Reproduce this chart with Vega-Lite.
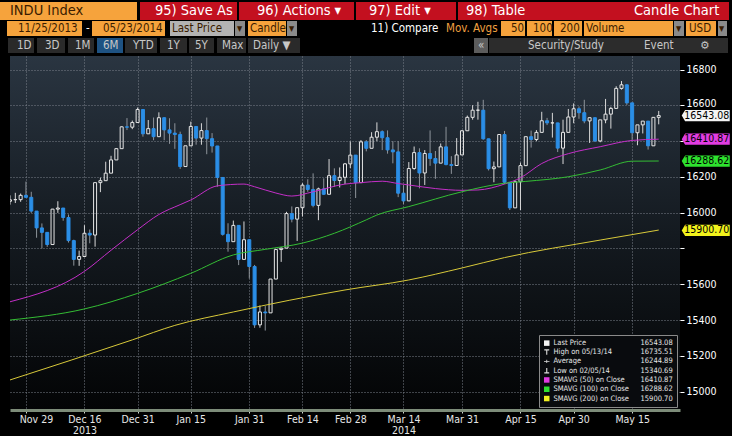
{
"$schema": "https://vega.github.io/schema/vega-lite/v6.json",
"background": "#000000",
"padding": 0,
"spacing": 0,
"config": {"view": {"stroke": null}, "font": "DejaVu Sans Condensed, Liberation Sans, sans-serif"},
"resolve": {"scale": {"x": "independent", "y": "independent", "color": "independent", "fill": "independent", "stroke": "independent", "shape": "independent"}},
"datasets": {
"hbox": [
{"x":0,"x2":137,"y":2,"y2":20,"k":"or"},
{"x":140,"x2":237,"y":2,"y2":20,"k":"red"},
{"x":239,"x2":354,"y":2,"y2":20,"k":"red"},
{"x":356,"x2":456,"y":2,"y2":20,"k":"red"},
{"x":458,"x2":729,"y":2,"y2":20,"k":"red"},
{"x":7,"x2":82,"y":21,"y2":36,"k":"or"},
{"x":92,"x2":165,"y":21,"y2":36,"k":"or"},
{"x":170,"x2":234,"y":21,"y2":36,"k":"gray"},
{"x":235,"x2":245,"y":21,"y2":36,"k":"dd"},
{"x":248,"x2":286,"y":21,"y2":36,"k":"or"},
{"x":287,"x2":297,"y":21,"y2":36,"k":"dd"},
{"x":501,"x2":525,"y":21,"y2":36,"k":"or"},
{"x":527,"x2":552,"y":21,"y2":36,"k":"or"},
{"x":554,"x2":582,"y":21,"y2":36,"k":"or"},
{"x":584,"x2":673,"y":21,"y2":36,"k":"or"},
{"x":674,"x2":684,"y":21,"y2":36,"k":"dd"},
{"x":686,"x2":716,"y":21,"y2":36,"k":"or"},
{"x":718,"x2":727,"y":21,"y2":36,"k":"dd"},
{"x":8,"x2":34,"y":38,"y2":53,"k":"tab"},
{"x":37,"x2":65,"y":38,"y2":53,"k":"tab"},
{"x":68,"x2":94,"y":38,"y2":53,"k":"tab"},
{"x":97,"x2":123,"y":38,"y2":53,"k":"act"},
{"x":125,"x2":157,"y":38,"y2":53,"k":"tab"},
{"x":160,"x2":187,"y":38,"y2":53,"k":"tab"},
{"x":189,"x2":214,"y":38,"y2":53,"k":"tab"},
{"x":217,"x2":246,"y":38,"y2":53,"k":"tab"},
{"x":248,"x2":300,"y":38,"y2":53,"k":"tab"},
{"x":474,"x2":488,"y":38,"y2":53,"k":"btn"},
{"x":489,"x2":728,"y":38,"y2":53,"k":"bar"}
],
"htext": [
{"r":1,"x":10,"y":11,"t":"INDU Index","k":"dk"},
{"r":1,"x":155,"y":11,"t":"95) Save As","k":"wh"},
{"r":1,"x":257,"y":11,"t":"96) Actions ▾","k":"wh"},
{"r":1,"x":369,"y":11,"t":"97) Edit ▾","k":"wh"},
{"r":1,"x":466,"y":11,"t":"98) Table","k":"wh"},
{"r":1,"x":634,"y":11,"t":"Candle Chart","k":"wh"},
{"r":2,"x":18,"y":28.5,"t":"11/25/2013","k":"dk"},
{"r":2,"x":86,"y":28.5,"t":"-","k":"wh"},
{"r":2,"x":103,"y":28.5,"t":"05/23/2014","k":"dk"},
{"r":2,"x":172,"y":28.5,"t":"Last Price","k":"dk"},
{"r":2,"x":237,"y":28.5,"t":"▾","k":"dk"},
{"r":2,"x":250,"y":28.5,"t":"Candle","k":"dk"},
{"r":2,"x":289,"y":28.5,"t":"▾","k":"dk"},
{"r":2,"x":371,"y":28.5,"t":"11) Compare","k":"wh"},
{"r":2,"x":446,"y":28.5,"t":"Mov. Avgs","k":"or"},
{"r":2,"x":511,"y":28.5,"t":"50","k":"dk"},
{"r":2,"x":533,"y":28.5,"t":"100","k":"dk"},
{"r":2,"x":560,"y":28.5,"t":"200","k":"dk"},
{"r":2,"x":586,"y":28.5,"t":"Volume","k":"dk"},
{"r":2,"x":676,"y":28.5,"t":"▾","k":"dk"},
{"r":2,"x":689,"y":28.5,"t":"USD","k":"dk"},
{"r":2,"x":719,"y":28.5,"t":"▾","k":"dk"},
{"r":3,"x":17,"y":46,"t":"1D","k":"gr"},
{"r":3,"x":45,"y":46,"t":"3D","k":"gr"},
{"r":3,"x":75,"y":46,"t":"1M","k":"gr"},
{"r":3,"x":103,"y":46,"t":"6M","k":"gr"},
{"r":3,"x":133,"y":46,"t":"YTD","k":"gr"},
{"r":3,"x":167,"y":46,"t":"1Y","k":"gr"},
{"r":3,"x":195,"y":46,"t":"5Y","k":"gr"},
{"r":3,"x":222,"y":46,"t":"Max","k":"gr"},
{"r":3,"x":253,"y":46,"t":"Daily ▼","k":"gr"},
{"r":3,"x":478,"y":46,"t":"«","k":"gr"},
{"r":3,"x":528,"y":46,"t":"Security/Study","k":"gr"},
{"r":3,"x":644,"y":46,"t":"Event","k":"gr"},
{"r":3,"x":700,"y":46,"t":"⚙","k":"gr"}
],
"candles": [
{"d":"2013-11-25","o":16064,"h":16097,"l":16045,"c":16072},
{"d":"2013-11-26","o":16073,"h":16111,"l":16054,"c":16073},
{"d":"2013-11-27","o":16073,"h":16107,"l":16061,"c":16097},
{"d":"2013-11-29","o":16097,"h":16174,"l":16082,"c":16086},
{"d":"2013-12-02","o":16086,"h":16117,"l":15999,"c":16009},
{"d":"2013-12-03","o":16009,"h":16009,"l":15860,"c":15915},
{"d":"2013-12-04","o":15915,"h":15940,"l":15800,"c":15890},
{"d":"2013-12-05","o":15890,"h":15890,"l":15809,"c":15822},
{"d":"2013-12-06","o":15822,"h":16021,"l":15822,"c":16020},
{"d":"2013-12-09","o":16020,"h":16064,"l":15999,"c":16026},
{"d":"2013-12-10","o":16026,"h":16026,"l":15955,"c":15973},
{"d":"2013-12-11","o":15973,"h":15990,"l":15833,"c":15844},
{"d":"2013-12-12","o":15844,"h":15849,"l":15704,"c":15739},
{"d":"2013-12-13","o":15739,"h":15788,"l":15703,"c":15755},
{"d":"2013-12-16","o":15755,"h":15930,"l":15755,"c":15885},
{"d":"2013-12-17","o":15885,"h":15906,"l":15829,"c":15875},
{"d":"2013-12-18","o":15875,"h":16168,"l":15810,"c":16168},
{"d":"2013-12-19","o":16168,"h":16196,"l":16115,"c":16179},
{"d":"2013-12-20","o":16179,"h":16285,"l":16179,"c":16221},
{"d":"2013-12-23","o":16221,"h":16318,"l":16221,"c":16295},
{"d":"2013-12-24","o":16295,"h":16360,"l":16295,"c":16358},
{"d":"2013-12-26","o":16358,"h":16483,"l":16358,"c":16480},
{"d":"2013-12-27","o":16480,"h":16529,"l":16462,"c":16478},
{"d":"2013-12-30","o":16478,"h":16515,"l":16467,"c":16504},
{"d":"2013-12-31","o":16504,"h":16588,"l":16504,"c":16577},
{"d":"2014-01-02","o":16577,"h":16577,"l":16425,"c":16441},
{"d":"2014-01-03","o":16441,"h":16518,"l":16441,"c":16470},
{"d":"2014-01-06","o":16470,"h":16532,"l":16405,"c":16425},
{"d":"2014-01-07","o":16425,"h":16561,"l":16425,"c":16531},
{"d":"2014-01-08","o":16531,"h":16531,"l":16405,"c":16463},
{"d":"2014-01-09","o":16463,"h":16528,"l":16385,"c":16445},
{"d":"2014-01-10","o":16445,"h":16500,"l":16357,"c":16437},
{"d":"2014-01-13","o":16437,"h":16453,"l":16245,"c":16258},
{"d":"2014-01-14","o":16258,"h":16374,"l":16258,"c":16374},
{"d":"2014-01-15","o":16374,"h":16509,"l":16374,"c":16482},
{"d":"2014-01-16","o":16482,"h":16482,"l":16380,"c":16417},
{"d":"2014-01-17","o":16417,"h":16500,"l":16380,"c":16459},
{"d":"2014-01-21","o":16459,"h":16532,"l":16327,"c":16414},
{"d":"2014-01-22","o":16414,"h":16445,"l":16336,"c":16373},
{"d":"2014-01-23","o":16373,"h":16373,"l":16145,"c":16197},
{"d":"2014-01-24","o":16197,"h":16197,"l":15872,"c":15879},
{"d":"2014-01-27","o":15879,"h":15941,"l":15782,"c":15838},
{"d":"2014-01-28","o":15838,"h":15956,"l":15838,"c":15929},
{"d":"2014-01-29","o":15929,"h":15929,"l":15707,"c":15739},
{"d":"2014-01-30","o":15739,"h":15951,"l":15739,"c":15849},
{"d":"2014-01-31","o":15849,"h":15849,"l":15632,"c":15699},
{"d":"2014-02-03","o":15699,"h":15708,"l":15356,"c":15373},
{"d":"2014-02-04","o":15373,"h":15481,"l":15357,"c":15445},
{"d":"2014-02-05","o":15445,"h":15478,"l":15341,"c":15440},
{"d":"2014-02-06","o":15440,"h":15629,"l":15440,"c":15629},
{"d":"2014-02-07","o":15629,"h":15798,"l":15629,"c":15794},
{"d":"2014-02-10","o":15794,"h":15806,"l":15725,"c":15802},
{"d":"2014-02-11","o":15802,"h":16005,"l":15802,"c":15995},
{"d":"2014-02-12","o":15995,"h":16035,"l":15946,"c":15964},
{"d":"2014-02-13","o":15964,"h":16030,"l":15842,"c":16028},
{"d":"2014-02-14","o":16028,"h":16165,"l":15979,"c":16154},
{"d":"2014-02-18","o":16154,"h":16187,"l":16117,"c":16130},
{"d":"2014-02-19","o":16130,"h":16220,"l":16030,"c":16041},
{"d":"2014-02-20","o":16041,"h":16140,"l":15958,"c":16133},
{"d":"2014-02-21","o":16133,"h":16192,"l":16100,"c":16103},
{"d":"2014-02-24","o":16103,"h":16300,"l":16103,"c":16207},
{"d":"2014-02-25","o":16207,"h":16248,"l":16144,"c":16180},
{"d":"2014-02-26","o":16180,"h":16253,"l":16141,"c":16198},
{"d":"2014-02-27","o":16198,"h":16278,"l":16160,"c":16273},
{"d":"2014-02-28","o":16273,"h":16398,"l":16250,"c":16322},
{"d":"2014-03-03","o":16322,"h":16322,"l":16082,"c":16168},
{"d":"2014-03-04","o":16168,"h":16406,"l":16168,"c":16396},
{"d":"2014-03-05","o":16396,"h":16406,"l":16343,"c":16360},
{"d":"2014-03-06","o":16360,"h":16450,"l":16360,"c":16422},
{"d":"2014-03-07","o":16422,"h":16505,"l":16400,"c":16453},
{"d":"2014-03-10","o":16453,"h":16460,"l":16350,"c":16419},
{"d":"2014-03-11","o":16419,"h":16460,"l":16330,"c":16351},
{"d":"2014-03-12","o":16351,"h":16400,"l":16276,"c":16340},
{"d":"2014-03-13","o":16340,"h":16400,"l":16087,"c":16109},
{"d":"2014-03-14","o":16109,"h":16154,"l":16048,"c":16066},
{"d":"2014-03-17","o":16066,"h":16283,"l":16066,"c":16247},
{"d":"2014-03-18","o":16247,"h":16370,"l":16240,"c":16336},
{"d":"2014-03-19","o":16336,"h":16360,"l":16136,"c":16222},
{"d":"2014-03-20","o":16222,"h":16350,"l":16155,"c":16331},
{"d":"2014-03-21","o":16331,"h":16460,"l":16262,"c":16303},
{"d":"2014-03-24","o":16303,"h":16345,"l":16189,"c":16277},
{"d":"2014-03-25","o":16277,"h":16387,"l":16277,"c":16368},
{"d":"2014-03-26","o":16368,"h":16480,"l":16265,"c":16269},
{"d":"2014-03-27","o":16269,"h":16316,"l":16217,"c":16264},
{"d":"2014-03-28","o":16264,"h":16417,"l":16264,"c":16323},
{"d":"2014-03-31","o":16323,"h":16462,"l":16323,"c":16458},
{"d":"2014-04-01","o":16458,"h":16543,"l":16458,"c":16533},
{"d":"2014-04-02","o":16533,"h":16601,"l":16520,"c":16573},
{"d":"2014-04-03","o":16573,"h":16620,"l":16520,"c":16573},
{"d":"2014-04-04","o":16573,"h":16631,"l":16408,"c":16413},
{"d":"2014-04-07","o":16413,"h":16413,"l":16236,"c":16246},
{"d":"2014-04-08","o":16246,"h":16286,"l":16170,"c":16256},
{"d":"2014-04-09","o":16256,"h":16437,"l":16256,"c":16437},
{"d":"2014-04-10","o":16437,"h":16457,"l":16160,"c":16170},
{"d":"2014-04-11","o":16170,"h":16170,"l":16015,"c":16027},
{"d":"2014-04-14","o":16027,"h":16180,"l":16027,"c":16173},
{"d":"2014-04-15","o":16173,"h":16280,"l":16015,"c":16263},
{"d":"2014-04-16","o":16263,"h":16425,"l":16263,"c":16425},
{"d":"2014-04-17","o":16425,"h":16459,"l":16364,"c":16409},
{"d":"2014-04-21","o":16409,"h":16462,"l":16400,"c":16449},
{"d":"2014-04-22","o":16449,"h":16564,"l":16449,"c":16514},
{"d":"2014-04-23","o":16514,"h":16530,"l":16490,"c":16502},
{"d":"2014-04-24","o":16502,"h":16558,"l":16420,"c":16502},
{"d":"2014-04-25","o":16502,"h":16502,"l":16339,"c":16361},
{"d":"2014-04-28","o":16361,"h":16520,"l":16272,"c":16449},
{"d":"2014-04-29","o":16449,"h":16580,"l":16449,"c":16535},
{"d":"2014-04-30","o":16535,"h":16611,"l":16500,"c":16581},
{"d":"2014-05-01","o":16581,"h":16594,"l":16525,"c":16559},
{"d":"2014-05-02","o":16559,"h":16631,"l":16500,"c":16513},
{"d":"2014-05-05","o":16513,"h":16533,"l":16390,"c":16531},
{"d":"2014-05-06","o":16531,"h":16531,"l":16395,"c":16401},
{"d":"2014-05-07","o":16401,"h":16519,"l":16394,"c":16519},
{"d":"2014-05-08","o":16519,"h":16636,"l":16500,"c":16551},
{"d":"2014-05-09","o":16551,"h":16592,"l":16470,"c":16583},
{"d":"2014-05-12","o":16583,"h":16707,"l":16583,"c":16695},
{"d":"2014-05-13","o":16695,"h":16736,"l":16688,"c":16715},
{"d":"2014-05-14","o":16715,"h":16716,"l":16603,"c":16614},
{"d":"2014-05-15","o":16614,"h":16614,"l":16406,"c":16447},
{"d":"2014-05-16","o":16447,"h":16491,"l":16377,"c":16491},
{"d":"2014-05-19","o":16491,"h":16512,"l":16443,"c":16512},
{"d":"2014-05-20","o":16512,"h":16512,"l":16353,"c":16374},
{"d":"2014-05-21","o":16374,"h":16535,"l":16374,"c":16533},
{"d":"2014-05-22","o":16533,"h":16569,"l":16494,"c":16543}
],
"ma": [
{"d":"2013-11-25","s":"50","v":15502},
{"d":"2013-12-16","s":"50","v":15672},
{"d":"2013-12-23","s":"50","v":15790},
{"d":"2013-12-31","s":"50","v":15905},
{"d":"2014-01-07","s":"50","v":15990},
{"d":"2014-01-13","s":"50","v":16045},
{"d":"2014-01-15","s":"50","v":16071},
{"d":"2014-01-23","s":"50","v":16150},
{"d":"2014-01-30","s":"50","v":16160},
{"d":"2014-02-03","s":"50","v":16145},
{"d":"2014-02-07","s":"50","v":16110},
{"d":"2014-02-12","s":"50","v":16093},
{"d":"2014-02-19","s":"50","v":16117},
{"d":"2014-02-27","s":"50","v":16160},
{"d":"2014-03-04","s":"50","v":16168},
{"d":"2014-03-10","s":"50","v":16176},
{"d":"2014-03-13","s":"50","v":16163},
{"d":"2014-03-17","s":"50","v":16155},
{"d":"2014-03-24","s":"50","v":16135},
{"d":"2014-03-31","s":"50","v":16125},
{"d":"2014-04-03","s":"50","v":16127},
{"d":"2014-04-10","s":"50","v":16160},
{"d":"2014-04-15","s":"50","v":16195},
{"d":"2014-04-22","s":"50","v":16275},
{"d":"2014-04-29","s":"50","v":16330},
{"d":"2014-05-07","s":"50","v":16369},
{"d":"2014-05-15","s":"50","v":16404},
{"d":"2014-05-22","s":"50","v":16411},
{"d":"2013-11-25","s":"100","v":15400},
{"d":"2013-12-16","s":"100","v":15462},
{"d":"2013-12-31","s":"100","v":15549},
{"d":"2014-01-15","s":"100","v":15661},
{"d":"2014-01-28","s":"100","v":15764},
{"d":"2014-02-05","s":"100","v":15795},
{"d":"2014-02-14","s":"100","v":15830},
{"d":"2014-02-25","s":"100","v":15885},
{"d":"2014-03-05","s":"100","v":15960},
{"d":"2014-03-07","s":"100","v":15987},
{"d":"2014-03-17","s":"100","v":16034},
{"d":"2014-03-31","s":"100","v":16117},
{"d":"2014-04-10","s":"100","v":16165},
{"d":"2014-04-16","s":"100","v":16175},
{"d":"2014-04-29","s":"100","v":16201},
{"d":"2014-05-07","s":"100","v":16239},
{"d":"2014-05-15","s":"100","v":16288},
{"d":"2014-05-22","s":"100","v":16289},
{"d":"2013-11-25","s":"200","v":15065},
{"d":"2013-12-30","s":"200","v":15289},
{"d":"2014-01-10","s":"200","v":15370},
{"d":"2014-01-28","s":"200","v":15445},
{"d":"2014-02-27","s":"200","v":15568},
{"d":"2014-03-17","s":"200","v":15624},
{"d":"2014-03-31","s":"200","v":15691},
{"d":"2014-04-10","s":"200","v":15749},
{"d":"2014-05-07","s":"200","v":15847},
{"d":"2014-05-22","s":"200","v":15903}
],
"tags": [
{"d":"2014-05-22","t":"last","v":16543.08},
{"d":"2014-05-22","t":"ma50","v":16410.87},
{"d":"2014-05-22","t":"ma100","v":16288.62},
{"d":"2014-05-22","t":"ma200","v":15900.70}
]
},
"vconcat": [
{
"width": 732, "height": 56,
"view": {"stroke": null, "fill": "#000000"},
"layer": [
{"data": {"name": "hbox"}, "mark": {"type": "rect"},
 "encoding": {
  "x": {"field": "x", "type": "quantitative", "scale": {"domain": [0, 732], "nice": false, "zero": false}, "axis": null},
  "x2": {"field": "x2"},
  "y": {"field": "y", "type": "quantitative", "scale": {"domain": [0, 56], "nice": false, "zero": false, "reverse": true}, "axis": null},
  "y2": {"field": "y2"},
  "fill": {"field": "k", "type": "nominal", "legend": null, "scale": {"domain": ["or","red","gray","dd","tab","act","btn","bar"], "range": ["#f6a33c","#c3101f","#b3b3b3","#8a8a8a","#2a2a2a","#1e5282","#5c5c5c","#2c2c2c"]}}
 }},
{"data": {"name": "htext"}, "transform": [{"filter": "datum.r == 1"}],
 "mark": {"type": "text", "align": "left", "baseline": "middle", "fontSize": 14.5},
 "encoding": {
  "x": {"field": "x", "type": "quantitative", "scale": {"domain": [0, 732], "nice": false, "zero": false}, "axis": null},
  "y": {"field": "y", "type": "quantitative", "scale": {"domain": [0, 56], "nice": false, "zero": false, "reverse": true}, "axis": null},
  "text": {"field": "t"},
  "color": {"field": "k", "type": "nominal", "legend": null, "scale": {"domain": ["dk","wh","or","gr"], "range": ["#3a1c00","#ffffff","#f0a040","#c8c8c8"]}}
 }},
{"data": {"name": "htext"}, "transform": [{"filter": "datum.r > 1"}],
 "mark": {"type": "text", "align": "left", "baseline": "middle", "fontSize": 11.5},
 "encoding": {
  "x": {"field": "x", "type": "quantitative", "scale": {"domain": [0, 732], "nice": false, "zero": false}, "axis": null},
  "y": {"field": "y", "type": "quantitative", "scale": {"domain": [0, 56], "nice": false, "zero": false, "reverse": true}, "axis": null},
  "text": {"field": "t"},
  "color": {"field": "k", "type": "nominal", "legend": null, "scale": {"domain": ["dk","wh","or","gr"], "range": ["#3a1c00","#ffffff","#f0a040","#c8c8c8"]}}
 }}
]
},
{
"hconcat": [
{"width": 10, "height": 354, "data": {"values": []}, "mark": "point", "view": {"stroke": null}},
{
"width": 670, "height": 354,
"view": {"stroke": null, "fill": {"gradient": "linear", "x1": 0, "y1": 0, "x2": 0, "y2": 1, "stops": [{"offset": 0, "color": "#2a3541"}, {"offset": 0.5, "color": "#141a20"}, {"offset": 1, "color": "#030405"}]}},
"encoding": {
 "x": {"field": "d", "type": "ordinal", "title": null,
  "scale": {"type": "point", "padding": 0, "domain": ["2013-11-25","2013-11-26","2013-11-27","2013-11-29","2013-12-02","2013-12-03","2013-12-04","2013-12-05","2013-12-06","2013-12-09","2013-12-10","2013-12-11","2013-12-12","2013-12-13","2013-12-16","2013-12-17","2013-12-18","2013-12-19","2013-12-20","2013-12-23","2013-12-24","2013-12-26","2013-12-27","2013-12-30","2013-12-31","2014-01-02","2014-01-03","2014-01-06","2014-01-07","2014-01-08","2014-01-09","2014-01-10","2014-01-13","2014-01-14","2014-01-15","2014-01-16","2014-01-17","2014-01-21","2014-01-22","2014-01-23","2014-01-24","2014-01-27","2014-01-28","2014-01-29","2014-01-30","2014-01-31","2014-02-03","2014-02-04","2014-02-05","2014-02-06","2014-02-07","2014-02-10","2014-02-11","2014-02-12","2014-02-13","2014-02-14","2014-02-18","2014-02-19","2014-02-20","2014-02-21","2014-02-24","2014-02-25","2014-02-26","2014-02-27","2014-02-28","2014-03-03","2014-03-04","2014-03-05","2014-03-06","2014-03-07","2014-03-10","2014-03-11","2014-03-12","2014-03-13","2014-03-14","2014-03-17","2014-03-18","2014-03-19","2014-03-20","2014-03-21","2014-03-24","2014-03-25","2014-03-26","2014-03-27","2014-03-28","2014-03-31","2014-04-01","2014-04-02","2014-04-03","2014-04-04","2014-04-07","2014-04-08","2014-04-09","2014-04-10","2014-04-11","2014-04-14","2014-04-15","2014-04-16","2014-04-17","2014-04-21","2014-04-22","2014-04-23","2014-04-24","2014-04-25","2014-04-28","2014-04-29","2014-04-30","2014-05-01","2014-05-02","2014-05-05","2014-05-06","2014-05-07","2014-05-08","2014-05-09","2014-05-12","2014-05-13","2014-05-14","2014-05-15","2014-05-16","2014-05-19","2014-05-20","2014-05-21","2014-05-22","2014-05-23","2014-05-27","2014-05-28","2014-05-29"]},
  "axis": {"values": ["2013-11-29","2013-12-16","2013-12-31","2014-01-15","2014-01-31","2014-02-14","2014-02-28","2014-03-14","2014-03-31","2014-04-15","2014-04-30","2014-05-15"],
   "labelExpr": "datum.value == '2013-12-16' ? ['Dec 16', '2013'] : datum.value == '2014-03-14' ? ['Mar 14', '2014'] : utcFormat(toDate(datum.value), '%b %d')",
   "labelOffset": {"condition": {"test": "datum.value == '2013-11-29'", "value": 10}, "value": 0},
   "labelAngle": 0, "labelFontSize": 10.5, "labelColor": "#e6e6e6", "labelPadding": 1, "labelLineHeight": 11, "labelOverlap": false,
   "tickColor": "#d0d8d0", "tickSize": 3, "domainColor": "#7d8c79", "domainWidth": 3,
   "grid": true, "gridColor": "#7a818a", "gridDash": [1, 2], "gridWidth": 1}}
},
"layer": [
{"data": {"name": "candles"}, "mark": {"type": "rule", "strokeWidth": 1, "clip": true},
 "encoding": {
  "y": {"field": "h", "type": "quantitative", "title": null, "scale": {"domain": [14897, 16876], "nice": false, "zero": false},
   "axis": {"orient": "right", "values": [15000,15200,15400,15600,15800,16000,16200,16400,16600,16800], "format": "d", "labelExpr": "datum.value == 16400 || datum.value == 15800 ? '' : datum.label", "labelOffset": {"condition": {"test": "datum.value == 16600", "value": -2}, "value": 0}, "labelFontSize": 10.5, "labelColor": "#ffffff", "labelPadding": 2, "labelOverlap": false, "tickColor": "#ffffff", "tickSize": 4, "domain": false, "grid": true, "gridColor": "#7a818a", "gridDash": [1, 2], "gridWidth": 1}},
  "y2": {"field": "c"},
  "color": {"condition": {"test": "datum.c >= datum.o", "value": "#d9d9d9"}, "value": "#8e949b"}
 }},
{"data": {"name": "candles"}, "mark": {"type": "rule", "strokeWidth": 1, "clip": true},
 "encoding": {
  "y": {"field": "l", "type": "quantitative", "title": null, "scale": {"domain": [14897, 16876], "nice": false, "zero": false},
   "axis": {"orient": "right", "values": [15000,15200,15400,15600,15800,16000,16200,16400,16600,16800], "format": "d", "labelExpr": "datum.value == 16400 || datum.value == 15800 ? '' : datum.label", "labelOffset": {"condition": {"test": "datum.value == 16600", "value": -2}, "value": 0}, "labelFontSize": 10.5, "labelColor": "#ffffff", "labelPadding": 2, "labelOverlap": false, "tickColor": "#ffffff", "tickSize": 4, "domain": false, "grid": true, "gridColor": "#7a818a", "gridDash": [1, 2], "gridWidth": 1}},
  "y2": {"field": "o"},
  "color": {"condition": {"test": "datum.c >= datum.o", "value": "#d9d9d9"}, "value": "#8e949b"}
 }},
{"data": {"name": "candles"}, "mark": {"type": "bar", "size": 3, "strokeWidth": 1, "clip": true},
 "encoding": {
  "y": {"field": "o", "type": "quantitative", "title": null, "scale": {"domain": [14897, 16876], "nice": false, "zero": false},
   "axis": {"orient": "right", "values": [15000,15200,15400,15600,15800,16000,16200,16400,16600,16800], "format": "d", "labelExpr": "datum.value == 16400 || datum.value == 15800 ? '' : datum.label", "labelOffset": {"condition": {"test": "datum.value == 16600", "value": -2}, "value": 0}, "labelFontSize": 10.5, "labelColor": "#ffffff", "labelPadding": 2, "labelOverlap": false, "tickColor": "#ffffff", "tickSize": 4, "domain": false, "grid": true, "gridColor": "#7a818a", "gridDash": [1, 2], "gridWidth": 1}},
  "y2": {"field": "c"},
  "fill": {"condition": {"test": "datum.c >= datum.o", "value": "transparent"}, "value": "#2b8ee6"},
  "stroke": {"condition": {"test": "datum.c >= datum.o", "value": "#e6e6e6"}, "value": "#2b8ee6"}
 }},
{"data": {"name": "ma"}, "mark": {"type": "line", "strokeWidth": 1, "clip": true, "interpolate": "monotone"},
 "encoding": {
  "y": {"field": "v", "type": "quantitative", "title": null, "scale": {"domain": [14897, 16876], "nice": false, "zero": false},
   "axis": {"orient": "right", "values": [15000,15200,15400,15600,15800,16000,16200,16400,16600,16800], "format": "d", "labelExpr": "datum.value == 16400 || datum.value == 15800 ? '' : datum.label", "labelOffset": {"condition": {"test": "datum.value == 16600", "value": -2}, "value": 0}, "labelFontSize": 10.5, "labelColor": "#ffffff", "labelPadding": 2, "labelOverlap": false, "tickColor": "#ffffff", "tickSize": 4, "domain": false, "grid": true, "gridColor": "#7a818a", "gridDash": [1, 2], "gridWidth": 1}},
  "stroke": {"field": "s", "type": "nominal", "legend": null, "scale": {"domain": ["50","100","200"], "range": ["#c42fc8","#34bd34","#d8c93a"]}}
 }},
{"data": {"name": "tags"}, "mark": {"type": "point", "shape": "M-1,0L-0.86,-0.235H1V0.235H-0.86Z", "size": 2304, "filled": true, "opacity": 1, "strokeWidth": 0, "xOffset": 47},
 "encoding": {
  "y": {"field": "v", "type": "quantitative", "title": null, "scale": {"domain": [14897, 16876], "nice": false, "zero": false},
   "axis": {"orient": "right", "values": [15000,15200,15400,15600,15800,16000,16200,16400,16600,16800], "format": "d", "labelExpr": "datum.value == 16400 || datum.value == 15800 ? '' : datum.label", "labelOffset": {"condition": {"test": "datum.value == 16600", "value": -2}, "value": 0}, "labelFontSize": 10.5, "labelColor": "#ffffff", "labelPadding": 2, "labelOverlap": false, "tickColor": "#ffffff", "tickSize": 4, "domain": false, "grid": true, "gridColor": "#7a818a", "gridDash": [1, 2], "gridWidth": 1}},
  "fill": {"field": "t", "type": "nominal", "legend": null, "scale": {"domain": ["last","ma50","ma100","ma200"], "range": ["#f4f4f4","#e23ce2","#2ee22e","#f2f21c"]}}
 }},
{"data": {"name": "tags"}, "mark": {"type": "text", "fontSize": 10.5, "align": "center", "baseline": "middle", "xOffset": 48, "color": "#000000"},
 "encoding": {
  "y": {"field": "v", "type": "quantitative", "title": null, "scale": {"domain": [14897, 16876], "nice": false, "zero": false},
   "axis": {"orient": "right", "values": [15000,15200,15400,15600,15800,16000,16200,16400,16600,16800], "format": "d", "labelExpr": "datum.value == 16400 || datum.value == 15800 ? '' : datum.label", "labelOffset": {"condition": {"test": "datum.value == 16600", "value": -2}, "value": 0}, "labelFontSize": 10.5, "labelColor": "#ffffff", "labelPadding": 2, "labelOverlap": false, "tickColor": "#ffffff", "tickSize": 4, "domain": false, "grid": true, "gridColor": "#7a818a", "gridDash": [1, 2], "gridWidth": 1}},
  "text": {"field": "v", "type": "quantitative", "format": ".2f"}
 }},
{"data": {"values": []}, "mark": {"type": "point", "filled": true},
 "encoding": {
  "color": {"field": "e", "type": "nominal",
   "scale": {"domain": ["Last Price","16543.08","High on 05/13/14","16735.51","Average","16244.89","Low on 02/05/14","15340.69","SMAVG (50) on Close","16410.87","SMAVG (100) on Close","16288.62","SMAVG (200) on Close","15900.70"],
    "range": ["#f4f4f4","transparent","#dcdcdc","transparent","#dcdcdc","transparent","#dcdcdc","transparent","#e03ae0","transparent","#2fe02f","transparent","#f0f020","transparent"]},
   "legend": {"title": null, "orient": "bottom-right", "direction": "horizontal", "offset": 3, "columns": 2, "padding": 4, "fillColor": "#090b0e", "strokeColor": "#8a8a8a", "labelFontSize": 7.5, "labelColor": "#e6e6e6", "symbolSize": 30, "symbolStrokeWidth": 0, "symbolOpacity": 1, "rowPadding": 0.3, "columnPadding": 1, "labelOffset": 3, "labelLimit": 200}},
  "shape": {"field": "e", "type": "nominal",
   "scale": {"domain": ["Last Price","16543.08","High on 05/13/14","16735.51","Average","16244.89","Low on 02/05/14","15340.69","SMAVG (50) on Close","16410.87","SMAVG (100) on Close","16288.62","SMAVG (200) on Close","15900.70"],
    "range": ["square","square","M-0.9,-1H0.9V-0.6H0.2V1H-0.2V-0.6H-0.9Z","square","M-1,-0.15H1V0.15H-1Z M-0.15,-0.6H0.15V0.6H-0.15Z","square","M-0.2,-1H0.2V0.6H0.9V1H-0.9V0.6H-0.2Z","square","square","square","square","square","square","square"]},
   "legend": {"title": null, "orient": "bottom-right", "direction": "horizontal", "offset": 3, "columns": 2, "padding": 4, "fillColor": "#090b0e", "strokeColor": "#8a8a8a", "labelFontSize": 7.5, "labelColor": "#e6e6e6", "symbolSize": 30, "symbolStrokeWidth": 0, "symbolOpacity": 1, "rowPadding": 0.3, "columnPadding": 1, "labelOffset": 3, "labelLimit": 200}}
 }}
]
}
],
"spacing": 0,
"bounds": "flush",
"resolve": {"scale": {"x": "independent", "y": "independent", "color": "independent", "fill": "independent", "stroke": "independent", "shape": "independent"}}
}
]
}
